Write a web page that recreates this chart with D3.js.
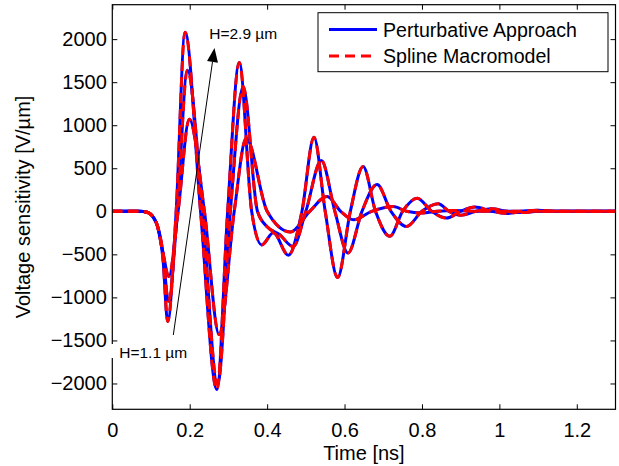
<!DOCTYPE html>
<html>
<head>
<meta charset="utf-8">
<script src="https://cdn.jsdelivr.net/npm/d3@7"></script>
<style>
  body { margin: 0; background: #fff; }
  text { font-family: Arial, "Liberation Sans", Helvetica, sans-serif; fill: #000; }
</style>
</head>
<body>
<div id="chart"></div>
<script>
// values (time in ns, sensitivity in V/um)
const timeA = [0, 0.07, 0.09, 0.114, 0.131, 0.143, 0.165, 0.188, 0.228, 0.270, 0.298, 0.328, 0.36, 0.386, 0.416, 0.455, 0.49, 0.521, 0.55, 0.582, 0.615, 0.648, 0.68, 0.717, 0.75, 0.788, 0.825, 0.863, 0.90, 0.937, 0.98, 1.02, 1.06, 1.10, 1.15, 1.3];
const valA  = [0, 0, -10, -137, -560, -1280, 0, 2080, 0, -2070, 0, 1730, 0, -390, -250, -510, 0, 860, 0, -770, 0, 520, 0, -290, 0, 153, 0, -79, 0, 50, 0, -25, 0, 12, 0, 0];

const timeB = [0, 0.07, 0.09, 0.114, 0.131, 0.145, 0.168, 0.194, 0.233, 0.272, 0.305, 0.338, 0.375, 0.40, 0.432, 0.467, 0.50, 0.540, 0.575, 0.609, 0.645, 0.684, 0.72, 0.760, 0.80, 0.842, 0.87, 0.90, 0.94, 0.98, 1.02, 1.06, 1.10, 1.3];
const valB  = [0, 0, -10, -137, -485, -1046, 0, 1640, 0, -2010, 0, 1450, 0, -180, -270, -410, 0, 590, 0, -485, 0, 310, 0, -176, 0, 87, 0, -45, 0, 30, 0, -15, 0, 0];

const timeC = [0, 0.07, 0.09, 0.114, 0.131, 0.146, 0.17, 0.199, 0.238, 0.276, 0.315, 0.346, 0.40, 0.46, 0.51, 0.555, 0.59, 0.623, 0.67, 0.726, 0.76, 0.80, 0.84, 0.88, 0.95, 1.3];
const valC  = [0, 0, -10, -137, -485, -756, 0, 1069, 0, -1432, 0, 849, 0, -240, 0, 172, 0, -99, 0, 56, 0, -20, 0, 10, 0, 0];

const seriesLabels = ["Perturbative Approach", "Spline Macromodel"];
const xTicks = [0, 0.2, 0.4, 0.6, 0.8, 1, 1.2];
const yTicks = [-2000, -1500, -1000, -500, 0, 500, 1000, 1500, 2000];
const xDomain = [0, 1.3];
const yDomain = [-2300, 2400];

// annotation arrow and labels, in data units
const arrowFrom = [0.1576, -1437];
const arrowTo = [0.264, 1897];
const noteLabels = ["H=2.9 \u00b5m", "H=1.1 \u00b5m"];
const noteTimes = [0.2504, 0.018];
const noteValues = [2001, -1704];

const W = 619, H = 466;
const margin = { top: 4.7, right: 3.5, bottom: 56.7, left: 112.3 };
const width = W - margin.left - margin.right;
const height = H - margin.top - margin.bottom;

const svg = d3.select("#chart")
    .append("svg")
    .attr("width", W)
    .attr("height", H);

const g = svg.append("g")
    .attr("transform", `translate(${margin.left}, ${margin.top})`);

const x = d3.scaleLinear().domain(xDomain).range([0, width]);
const y = d3.scaleLinear().domain(yDomain).range([height, 0]);

g.append("clipPath").attr("id", "clip")
    .append("rect").attr("width", width).attr("height", height);

// axes with inward ticks on all four sides
const fs = 20;
g.append("g")
    .attr("transform", `translate(0, ${height})`)
    .call(d3.axisBottom(x).tickValues(xTicks).tickSize(-5).tickPadding(13.5).tickFormat(d3.format("")));
g.append("g")
    .call(d3.axisTop(x).tickValues(xTicks).tickSize(-5).tickFormat(""));
g.append("g")
    .call(d3.axisLeft(y).tickValues(yTicks).tickSize(-5).tickPadding(5.5).tickFormat(d3.format("")));
g.append("g")
    .attr("transform", `translate(${width}, 0)`)
    .call(d3.axisRight(y).tickValues(yTicks).tickSize(-5).tickFormat(""));

g.selectAll(".domain").remove();
g.selectAll(".tick line").attr("stroke", "#000").attr("stroke-width", 1);
g.selectAll(".tick text")
    .style("font-size", fs + "px")
    .style("font-family", "Arial, 'Liberation Sans', Helvetica, sans-serif")
    .attr("fill", "#000");

// curves
const line = d3.line()
    .x(d => x(d[0]))
    .y(d => y(d[1]))
    .curve(d3.curveMonotoneX);

const curves = [[timeA, valA], [timeB, valB], [timeC, valC]]
    .map(([t, v]) => t.map((ti, i) => [ti, v[i]]));

const plot = g.append("g").attr("clip-path", "url(#clip)");

curves.forEach(data => {
    plot.append("path")
        .datum(data)
        .attr("fill", "none")
        .attr("stroke", "#0000ff")
        .attr("stroke-width", 3)
        .attr("d", line);
});
curves.forEach(data => {
    plot.append("path")
        .datum(data)
        .attr("fill", "none")
        .attr("stroke", "#ff0000")
        .attr("stroke-width", 3)
        .attr("stroke-dasharray", "10,6")
        .attr("d", line);
});

// frame
g.append("rect")
    .attr("width", width)
    .attr("height", height)
    .attr("fill", "none")
    .attr("stroke", "#000")
    .attr("stroke-width", 1.2);

// annotation arrow
const ax1 = x(arrowFrom[0]), ay1 = y(arrowFrom[1]);
const ax2 = x(arrowTo[0]), ay2 = y(arrowTo[1]);
const ang = Math.atan2(ay2 - ay1, ax2 - ax1);
const headLen = 14, headHalf = 5.5;
const bx = ax2 - headLen * Math.cos(ang), by = ay2 - headLen * Math.sin(ang);
g.append("line")
    .attr("x1", ax1).attr("y1", ay1)
    .attr("x2", bx).attr("y2", by)
    .attr("stroke", "#000").attr("stroke-width", 1);
g.append("path")
    .attr("d", `M${ax2},${ay2} L${bx - headHalf * Math.sin(ang)},${by + headHalf * Math.cos(ang)} L${bx + headHalf * Math.sin(ang)},${by - headHalf * Math.cos(ang)} Z`)
    .attr("fill", "#000");

// annotation labels (lower one sits on a white box over the axis)
noteLabels.forEach((label, i) => {
    const tx = x(noteTimes[i]), ty = y(noteValues[i]);
    const t = g.append("text")
        .attr("x", tx).attr("y", ty)
        .style("font-size", "15.5px")
        .text(label);
    if (i === 1) {
        const bb = t.node().getBBox();
        g.insert("rect", () => t.node())
            .attr("x", -1.5).attr("y", bb.y)
            .attr("width", bb.x + bb.width + 2)
            .attr("height", bb.height - 3)
            .attr("fill", "#fff");
    }
});

// legend
const lg = svg.append("g");
lg.append("rect")
    .attr("x", 318).attr("y", 12.7)
    .attr("width", 290).attr("height", 59)
    .attr("fill", "#fff")
    .attr("stroke", "#000")
    .attr("stroke-width", 1);
seriesLabels.forEach((label, i) => {
    const ly = 29.5 + i * 26.5;
    lg.append("line")
        .attr("x1", 329).attr("x2", 377)
        .attr("y1", ly).attr("y2", ly)
        .attr("stroke", i === 0 ? "#0000ff" : "#ff0000")
        .attr("stroke-width", 3)
        .attr("stroke-dasharray", i === 0 ? null : "10,6");
    lg.append("text")
        .attr("x", 383).attr("y", ly + 7)
        .style("font-size", "19.6px")
        .text(label);
});

// axis titles
svg.append("text")
    .attr("x", margin.left + width / 2)
    .attr("y", 460)
    .attr("text-anchor", "middle")
    .style("font-size", fs + "px")
    .text("Time [ns]");
svg.append("text")
    .attr("transform", `translate(30, ${margin.top + y(50)}) rotate(-90)`)
    .attr("text-anchor", "middle")
    .style("font-size", fs + "px")
    .text("Voltage sensitivity [V/\u00b5m]");
</script>
</body>
</html>
